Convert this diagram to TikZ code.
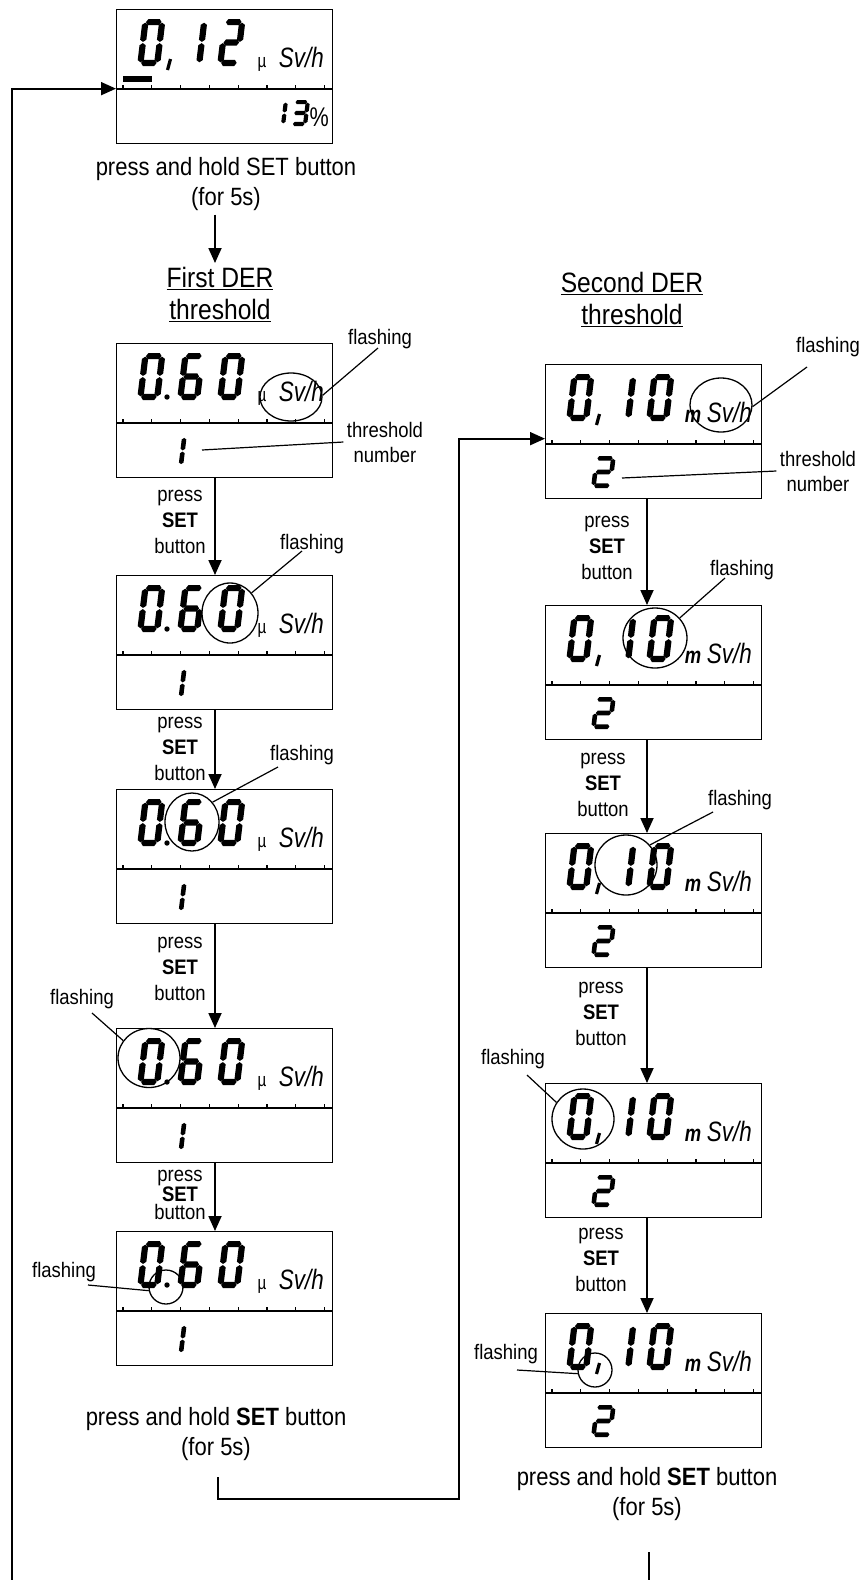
\documentclass[tikz,border=0pt]{standalone}
\usepackage{fontspec}
\setmainfont{Liberation Sans}[FakeStretch=0.88]
\newfontfamily\lcdfont{Liberation Sans}[FakeStretch=0.8]
\usetikzlibrary{arrows.meta, positioning, shapes.geometric}

\tikzset{
  panel/.style={draw, line width=1.3pt, anchor=north west, minimum width=216pt, minimum height=134pt, inner sep=0pt},
  divider/.style={line width=2.6pt},
  tickmark/.style={line width=1.3pt},
  arr/.style={line width=1.8pt, -{Triangle[length=15pt, width=13pt]}},
  wire/.style={line width=1.8pt},
  lead/.style={line width=1.2pt},
  blink/.style={draw, ellipse, line width=1.3pt, inner sep=0pt},
  mulbl/.style={inner sep=0pt, anchor=base, font=\lcdfont\fontsize{19}{19}\selectfont},
  mlbl/.style={inner sep=0pt, anchor=base, font=\lcdfont\bfseries\itshape\fontsize{23}{23}\selectfont},
  svlbl/.style={inner sep=0pt, anchor=base east, font=\lcdfont\itshape\fontsize{28}{28}\selectfont},
  note/.style={font=\fontsize{21}{26}\selectfont, align=center},
  heading/.style={font=\fontsize{28}{32}\selectfont, align=center, anchor=north, inner sep=4pt},
  holdtxt/.style={font=\fontsize{25}{30}\selectfont, align=center, anchor=north, inner sep=4pt}
}

% seven segment pieces
\newcommand{\hseg}[3]{\fill (#1,#3) -- (#1+\lcdp,#3-\lcdt) -- (#2-\lcdp,#3-\lcdt) -- (#2,#3) -- (#2-\lcdp,#3+\lcdt) -- (#1+\lcdp,#3+\lcdt) -- cycle;}
\newcommand{\vseg}[3]{\fill (#1,#2) -- (#1+\lcdt,#2+\lcdp) -- (#1+\lcdt,#3-\lcdp) -- (#1,#3) -- (#1-\lcdt,#3-\lcdp) -- (#1-\lcdt,#2+\lcdp) -- cycle;}
\newcommand{\lcdsega}{\hseg{\lcdt+0.6}{\lcdw-\lcdt-0.6}{-\lcdh+\lcdt}}
\newcommand{\lcdsegb}{\vseg{\lcdw-\lcdt}{-\lcdh+\lcdt+0.6}{-\lcdh/2-0.6}}
\newcommand{\lcdsegc}{\vseg{\lcdw-\lcdt}{-\lcdh/2+0.6}{-\lcdt-0.6}}
\newcommand{\lcdsegd}{\hseg{\lcdt+0.6}{\lcdw-\lcdt-0.6}{-\lcdt}}
\newcommand{\lcdsege}{\vseg{\lcdt}{-\lcdh/2+0.6}{-\lcdt-0.6}}
\newcommand{\lcdsegf}{\vseg{\lcdt}{-\lcdh+\lcdt+0.6}{-\lcdh/2-0.6}}
\newcommand{\lcdsegg}{\hseg{\lcdt+0.6}{\lcdw-\lcdt-0.6}{-\lcdh/2}}

% x, y (bottom left), width, height, half stroke, segments
\newcommand{\lcddigit}[6]{%
  \begin{scope}[shift={(#1,#2)}, xslant=0.12]
    \def\lcdw{#3}\def\lcdh{#4}\def\lcdt{#5}\pgfmathsetmacro{\lcdp}{0.7*#5}
    \foreach \sg in {#6} {\csname lcdseg\sg\endcsname}
  \end{scope}}

\newcommand{\lcdframe}[1]{%
  \node[panel] (#1) at (0,0) {};
  \draw[divider] (0,80) -- (216,80);
  \foreach \tk in {0,...,7} \draw[tickmark] (7+\tk*28.8,80) -- ++(0,-4);}

\newcommand{\firstpanel}[2]{%
  \begin{scope}[shift={#2}]
    \lcdframe{#1}
    \lcddigit{21}{57}{23}{47}{3.1}{a,b,c,d,e,f}
    \lcddigit{61}{57}{23}{47}{3.1}{a,c,d,e,f,g}
    \lcddigit{101}{57}{23}{47}{3.1}{a,b,c,d,e,f}
    \fill (51,54) circle (2.7);
    \lcddigit{46}{124}{21}{32}{2.3}{b,c}
    \node[mulbl] (#1mu) at (146,58) {µ};
    \node[svlbl] (#1sv) at (208,58) {Sv/h};
  \end{scope}}

\newcommand{\secondpanel}[2]{%
  \begin{scope}[shift={#2}]
    \lcdframe{#1}
    \lcddigit{21}{57}{23}{47}{3.1}{a,b,c,d,e,f}
    \lcddigit{63}{57}{23}{47}{3.1}{b,c}
    \lcddigit{101}{57}{23}{47}{3.1}{a,b,c,d,e,f}
    \draw[line width=3.2pt] (54.5,50) -- (51.5,61);
    \lcddigit{46}{124}{21}{32}{2.3}{a,b,g,e,d}
    \node[mlbl] (#1m) at (148,58) {m};
    \node[svlbl] (#1sv) at (207,58) {Sv/h};
  \end{scope}}

\begin{document}
\begin{tikzpicture}[x=1pt, y=-1pt]
  \path[use as bounding box, fill=white] (0,0) rectangle (867,1580);
  \coordinate (lcol) at (215,0);
  \coordinate (rcol) at (647,0);

  % measuring display
  \begin{scope}[shift={(116,9)}]
    \lcdframe{L1}
    \lcddigit{21}{57}{23}{47}{3.1}{a,b,c,d,e,f}
    \lcddigit{63}{57}{23}{47}{3.1}{b,c}
    \lcddigit{101}{57}{23}{47}{3.1}{a,b,g,e,d}
    \draw[line width=3.2pt] (54.5,50) -- (51.5,61);
    \fill (7,67) rectangle (36,73);
    \lcddigit{152}{117}{17}{26}{2.1}{b,c}
    \lcddigit{174}{117}{17}{26}{2.1}{a,b,g,c,d}
    \node[inner sep=0pt, anchor=base east, font=\lcdfont\fontsize{27}{27}\selectfont] (L1pct) at (213,117) {\%};
    \node[mulbl] (L1mu) at (146,58) {µ};
    \node[svlbl] (L1sv) at (208,58) {Sv/h};
  \end{scope}
  \node[holdtxt] (txt0) at (226,153) {press and hold SET button\\(for 5s)};
  \node[heading] (head1) at (220,263) {\underline{First DER}\\\underline{threshold}};
  \node[heading] (head2) at (632,268) {\underline{Second DER}\\\underline{threshold}};

  % first threshold
  \firstpanel{L2}{(116,343)}
  \firstpanel{L3}{(116,575)}
  \firstpanel{L4}{(116,789)}
  \firstpanel{L5}{(116,1028)}
  \firstpanel{L6}{(116,1231)}
  % second threshold
  \secondpanel{R1}{(545,364)}
  \secondpanel{R2}{(545,605)}
  \secondpanel{R3}{(545,833)}
  \secondpanel{R4}{(545,1083)}
  \secondpanel{R5}{(545,1313)}

  % flashing marks
  \node[blink, minimum width=62pt, minimum height=48pt] (c2) at (291,397) {};
  \node[blink, minimum width=56pt, minimum height=60pt] (c3) at (230,613) {};
  \node[blink, minimum width=54pt, minimum height=58pt] (c4) at (192,822) {};
  \node[blink, minimum width=62pt, minimum height=59pt] (c5) at (149,1058) {};
  \node[blink, minimum width=34pt, minimum height=34pt] (c6) at (166,1287) {};
  \node[blink, minimum width=62pt, minimum height=54pt] (cr1) at (721,405) {};
  \node[blink, minimum width=64pt, minimum height=60pt] (cr2) at (655,638) {};
  \node[blink, minimum width=62pt, minimum height=60pt] (cr3) at (626,865) {};
  \node[blink, minimum width=62pt, minimum height=60pt] (cr4) at (583,1119) {};
  \node[blink, minimum width=34pt, minimum height=34pt] (cr5) at (595,1370) {};

  \node[note] (fl2) at (380,339) {flashing};
  \node[note] (fl3) at (312,544) {flashing};
  \node[note] (fl4) at (302,755) {flashing};
  \node[note] (fl5) at (82,999) {flashing};
  \node[note] (fl6) at (64,1272) {flashing};
  \node[note] (fr1) at (828,347) {flashing};
  \node[note] (fr2) at (742,570) {flashing};
  \node[note] (fr3) at (740,800) {flashing};
  \node[note] (fr4) at (513,1059) {flashing};
  \node[note] (fr5) at (506,1354) {flashing};
  \draw[lead] ([shift={(-2,9)}]fl2.center) -- (c2.3);
  \draw[lead] ([shift={(-10,7)}]fl3.center) -- (c3.43);
  \draw[lead] ([shift={(-24,12)}]fl4.center) -- (c4.44);
  \draw[lead] ([shift={(10,14)}]fl5.center) -- (c5.146);
  \draw[lead] ([shift={(24,13)}]fl6.center) -- (c6.192);
  \draw[lead] ([shift={(-21,20)}]fr1.center) -- (cr1.-3);
  \draw[lead] ([shift={(-17,8)}]fr2.center) -- (cr2.39);
  \draw[lead] ([shift={(-27,12)}]fr3.center) -- (cr3.40);
  \draw[lead] ([shift={(14,16)}]fr4.center) -- (cr4.148);
  \draw[lead] ([shift={(11,16)}]fr5.center) -- (cr5.192);

  \node[note, font=\fontsize{21}{25}\selectfont] (th2) at (385,442) {threshold\\number};
  \node[note, font=\fontsize{21}{25}\selectfont] (thr1) at (818,471) {threshold\\number};
  \coordinate (th2end) at (202,450);
  \coordinate (thr1end) at (622,478);
  \draw[lead] (th2.west) -- (th2end);
  \draw[lead] (thr1.west) -- (thr1end);

  % press SET steps
  \node[note] (p23) at (180,522) {press\\\textbf{SET}\\button};
  \node[note] (p34) at (180,749) {press\\\textbf{SET}\\button};
  \node[note] (p45) at (180,969) {press\\\textbf{SET}\\button};
  \node[note, font=\fontsize{21}{18.5}\selectfont] (p56) at (180,1195) {press\\\textbf{SET}\\button};
  \node[note] (q12) at (607,548) {press\\\textbf{SET}\\button};
  \node[note] (q23) at (603,785) {press\\\textbf{SET}\\button};
  \node[note] (q34) at (601,1014) {press\\\textbf{SET}\\button};
  \node[note] (q45) at (601,1260) {press\\\textbf{SET}\\button};

  \node[holdtxt] (txt6) at (216,1403) {press and hold \textbf{SET} button\\(for 5s)};
  \node[holdtxt] (txt11) at (647,1463) {press and hold \textbf{SET} button\\(for 5s)};

  % connectors
  \draw[arr] (txt0.south -| lcol) -- (head1.north -| lcol);
  \draw[arr] (L2.south -| lcol) -- (L3.north -| lcol);
  \draw[arr] (L3.south -| lcol) -- (L4.north -| lcol);
  \draw[arr] (L4.south -| lcol) -- (L5.north -| lcol);
  \draw[arr] (L5.south -| lcol) -- (L6.north -| lcol);
  \draw[arr] (R1.south -| rcol) -- (R2.north -| rcol);
  \draw[arr] (R2.south -| rcol) -- (R3.north -| rcol);
  \draw[arr] (R3.south -| rcol) -- (R4.north -| rcol);
  \draw[arr] (R4.south -| rcol) -- (R5.north -| rcol);

  \coordinate (loopbot) at (12,1580);
  \draw[arr] (loopbot) |- ([yshift=-12pt]L1.west);
  \coordinate (hold1) at (218,1477);
  \coordinate (jmp) at (459,1499);
  \draw[arr] (hold1) |- (jmp) |- ([yshift=-7pt]R1.west);
  \coordinate (hold2) at (649,1552);
  \coordinate (exit) at (649,1580);
  \draw[wire] (hold2) -- (exit);
\end{tikzpicture}
\end{document}
